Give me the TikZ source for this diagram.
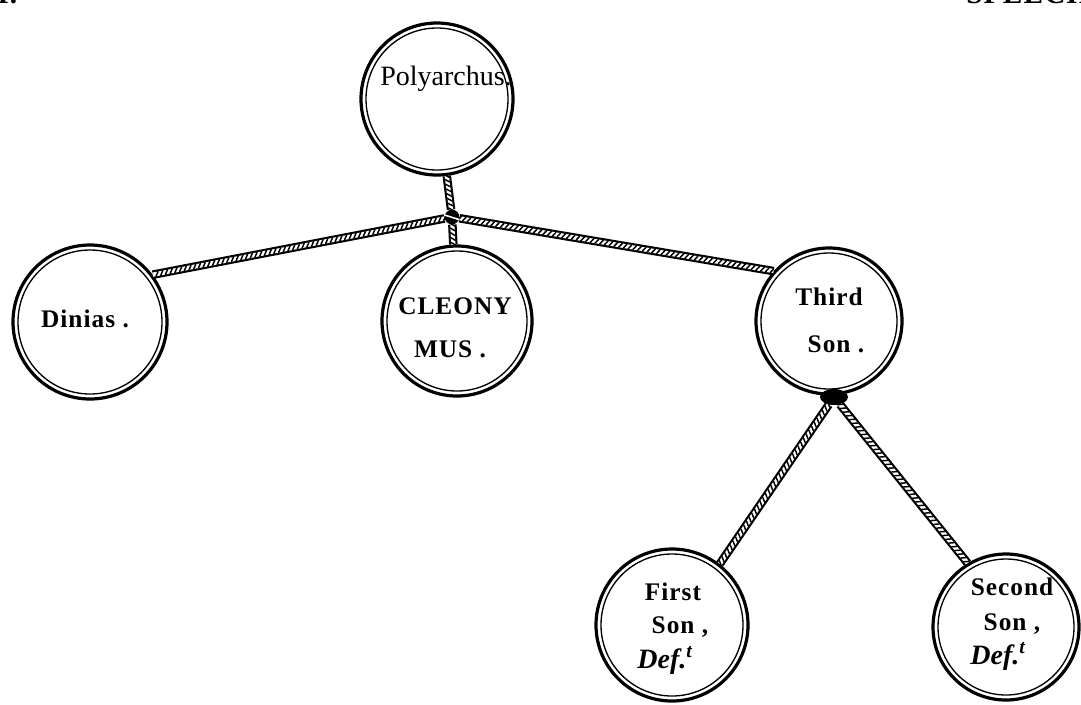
\documentclass[tikz,border=0pt]{standalone}
\usepackage{fontspec}
\setmainfont{Liberation Serif}
\newfontfamily\spacedserif[LetterSpace=4]{Liberation Serif}
\usetikzlibrary{decorations.markings,shapes.geometric}

\begin{document}
\begin{tikzpicture}[x=0.75pt,y=-0.75pt,
  % a family member: heavy outer ring with a thin inner ring
  person/.style={circle, draw=black, line width=2.4pt, inner sep=0pt,
    minimum size={#1*1.5pt},
    path picture={\draw[line width=1pt] (path picture bounding box.center)
      circle[radius={(#1-5)*0.75pt}];}},
  namelabel/.style={anchor=base, inner sep=0pt,
    font=\spacedserif\bfseries\fontsize{19}{22}\selectfont},
  biglabel/.style={anchor=base, inner sep=0pt, font=\fontsize{21}{24}\selectfont},
  notelabel/.style={anchor=base, inner sep=0pt, font=\bfseries\itshape\fontsize{21}{24}\selectfont},
  headlabel/.style={anchor=base west, inner sep=0pt,
    font=\spacedserif\bfseries\fontsize{22}{24}\selectfont},
  % twisted cord between members
  rope/.style={draw=black, line width=6.4pt, line cap=butt,
    postaction={draw=white, line width=3.2pt},
    postaction={decorate, decoration={markings,
      mark=between positions 0 and 1 step 3.6pt with
        {\draw[black, line width=1.1pt, line cap=round] (-1.1pt,-1.6pt) -- (1.1pt,1.6pt);}}}},
  knotball/.style={circle, fill=black, inner sep=0pt, minimum size=11pt},
  knotblob/.style={ellipse, fill=black, inner sep=0pt, minimum width=21pt, minimum height=12pt}
]
\useasboundingbox (0,0) rectangle (1081,704);
\clip (0,0) rectangle (1081,704);

% running head of the page, trimmed at the top edge
\node[headlabel] (hleft) at (-3,3) {I.};
\node[headlabel] (hright) at (966,3) {SPEECH};

% members
\node[person=76] (poly)   at (437,99)  {};
\node[person=77] (dinias) at (90,322)  {};
\node[person=75] (cleo)   at (457,321) {};
\node[person=73] (third)  at (829,321) {};
\node[person=76] (first)  at (672,625) {};
\node[person=73] (second) at (1006,627) {};

% knots where the cords meet
\node[knotball] (k1) at (452,217) {};
\node[knotblob] (k2) at (834,397) {};

% cords
\draw[rope] (poly) -- (k1);
\draw[rope] (k1) -- (cleo);
\draw[rope] (k1) -- (dinias.37);
\draw[rope] (k1) -- (third.138);
\draw[rope] (k2) -- (first.52);
\draw[rope] (k2) -- (second.121);

% strand passing over the upper knot
\draw[white, line width=1.2pt] (k1.165) .. controls (k1.center) .. (k1.-20);

% names
\node[biglabel] (tpoly) at (446,85) {Polyarchus.};
\node[namelabel] (tdin) at (85,327) {Dinias .};
\node[namelabel] (tcleo1) at (455,314) {CLEONY};
\node[namelabel] (tcleo2) at (450,357) {MUS .};
\node[namelabel] (tthird1) at (829,305) {Third};
\node[namelabel] (tthird2) at (836,352) {Son .};
\node[namelabel] (tfirst1) at (673,600) {First};
\node[namelabel] (tfirst2) at (680,633) {Son ,};
\node[notelabel] (tfirst3) at (665,668) {Def.\textsuperscript{t}};
\node[namelabel] (tsec1) at (1012,595) {Second};
\node[namelabel] (tsec2) at (1012,630) {Son ,};
\node[notelabel] (tsec3) at (998,664) {Def.\textsuperscript{t}};
\end{tikzpicture}
\end{document}
